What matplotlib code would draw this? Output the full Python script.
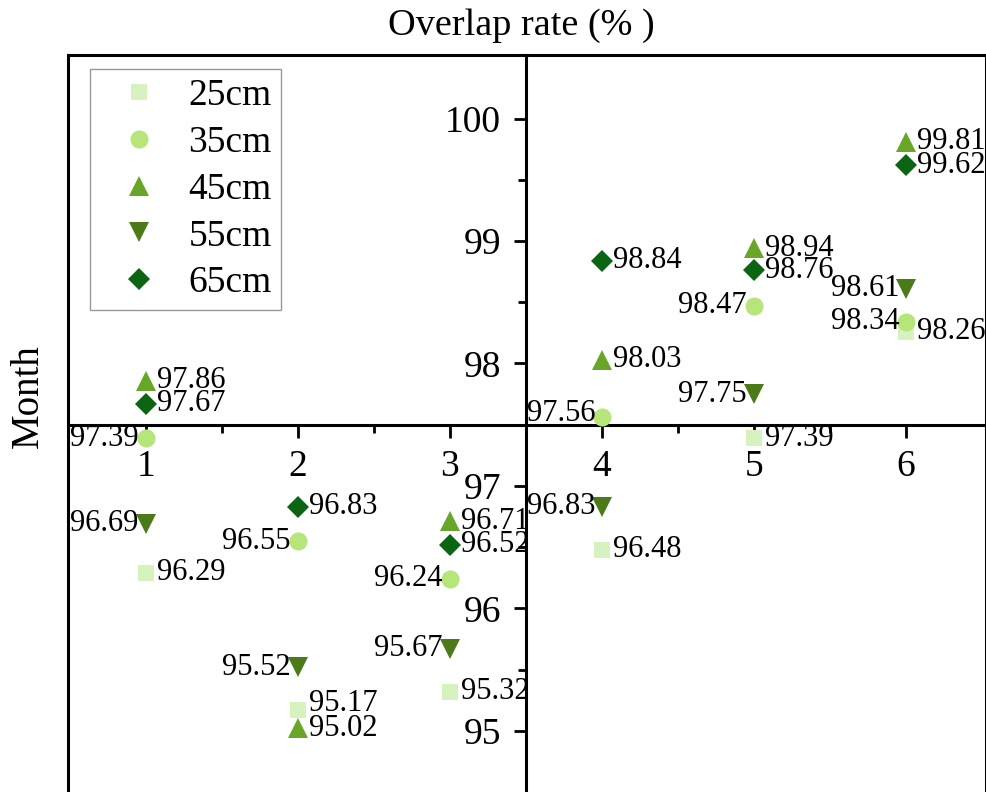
import numpy as np
import matplotlib
matplotlib.use('Agg')
import matplotlib.pyplot as plt
from matplotlib.ticker import FixedLocator
from matplotlib.lines import Line2D

plt.rcParams['font.family'] = ['Liberation Serif', 'DejaVu Serif']

months = [1, 2, 3, 4, 5, 6]
depths = ['25cm', '35cm', '45cm', '55cm', '65cm']

rate_25 = [96.29, 95.17, 95.32, 96.48, 97.39, 98.26]
rate_35 = [97.39, 96.55, 96.24, 97.56, 98.47, 98.34]
rate_45 = [97.86, 95.02, 96.71, 98.03, 98.94, 99.81]
rate_55 = [96.69, 95.52, 95.67, 96.83, 97.75, 98.61]
rate_65 = [97.67, 96.83, 96.52, 98.84, 98.76, 99.62]

# which side of the marker each value label sits on (1 = right, -1 = left)
side_25 = [1, 1, 1, 1, 1, 1]
side_35 = [-1, -1, -1, -1, -1, -1]
side_45 = [1, 1, 1, 1, 1, 1]
side_55 = [-1, -1, -1, -1, -1, -1]
side_65 = [1, 1, 1, 1, 1, 1]

# small vertical nudges for crowded labels (points)
lift_25 = [0, 5, 0, 0, 0, 0]
lift_35 = [0, 0, 0, 3, 0, 0]
lift_45 = [0, 0, 0, 0, 0, 0]
lift_55 = [0, 0, 0, 0, 0, 0]
lift_65 = [0, 0, 0, 0, 0, 0]

series = [
    (rate_25, side_25, lift_25, 's', 12, '#d6f3bf'),
    (rate_35, side_35, lift_35, 'o', 13, '#b6e67a'),
    (rate_45, side_45, lift_45, '^', 14, '#68a628'),
    (rate_55, side_55, lift_55, 'v', 14, '#4b7a19'),
    (rate_65, side_65, lift_65, 'D', 11, '#0b6512'),
]

fig = plt.figure(figsize=(9.87, 7.92), dpi=100)
ax = fig.add_axes([0.069, 0.0, 0.93, 0.9306])

handles = []
for (vals, sides, lifts, mk, ms, col), name in zip(series, depths):
    h, = ax.plot(months, vals, linestyle='none', marker=mk, markersize=ms,
                 color=col, markeredgewidth=0, label=name, zorder=3)
    handles.append(h)
    for m, v, s, dy in zip(months, vals, sides, lifts):
        ax.annotate(f'{v:.2f}', (m, v),
                    xytext=(8 if s > 0 else -5, dy),
                    textcoords='offset points',
                    ha='left' if s > 0 else 'right', va='center',
                    fontsize=22, zorder=4)

ax.set_xlim(0.49, 6.525)
ax.set_ylim(94.5, 100.52)

# axes crossing in the middle of the frame
ax.spines['left'].set_position(('data', 3.5))
ax.spines['bottom'].set_position(('data', 97.5))
for sp in ax.spines.values():
    sp.set_linewidth(2.2)
ax.add_line(Line2D([0, 0], [0, 1], transform=ax.transAxes, color='black',
                   lw=2.2, clip_on=False))

ax.set_xticks([1, 2, 3, 4, 5, 6])
ax.set_yticks([95, 96, 97, 98, 99, 100])
ax.xaxis.set_minor_locator(FixedLocator([1.5, 2.5, 4.5, 5.5]))
ax.yaxis.set_minor_locator(FixedLocator([95.5, 96.5, 97.5, 98.5, 99.5]))

ax.tick_params(axis='both', which='major', direction='out', length=9,
               width=2, labelsize=27, pad=9)
ax.tick_params(axis='both', which='minor', direction='out', length=6, width=2)
ax.tick_params(top=False, right=False, which='both')

fig.text(0.528, 0.968, 'Overlap rate (% )', ha='center', va='center',
         fontsize=27.5)
fig.text(0.029, 0.5, 'Month', rotation=90, ha='center', va='center',
         fontsize=28)

leg = ax.legend(handles=handles, loc='upper left',
                bbox_to_anchor=(90 / 987, 1 - 69 / 792),
                bbox_transform=fig.transFigure, fontsize=27,
                frameon=True, fancybox=False, borderpad=0.25,
                labelspacing=0.33, handletextpad=0.28, handlelength=2.1,
                borderaxespad=0)
leg.get_frame().set_edgecolor('#808080')
leg.get_frame().set_linewidth(1)

fig.savefig('out.png', dpi=100)
